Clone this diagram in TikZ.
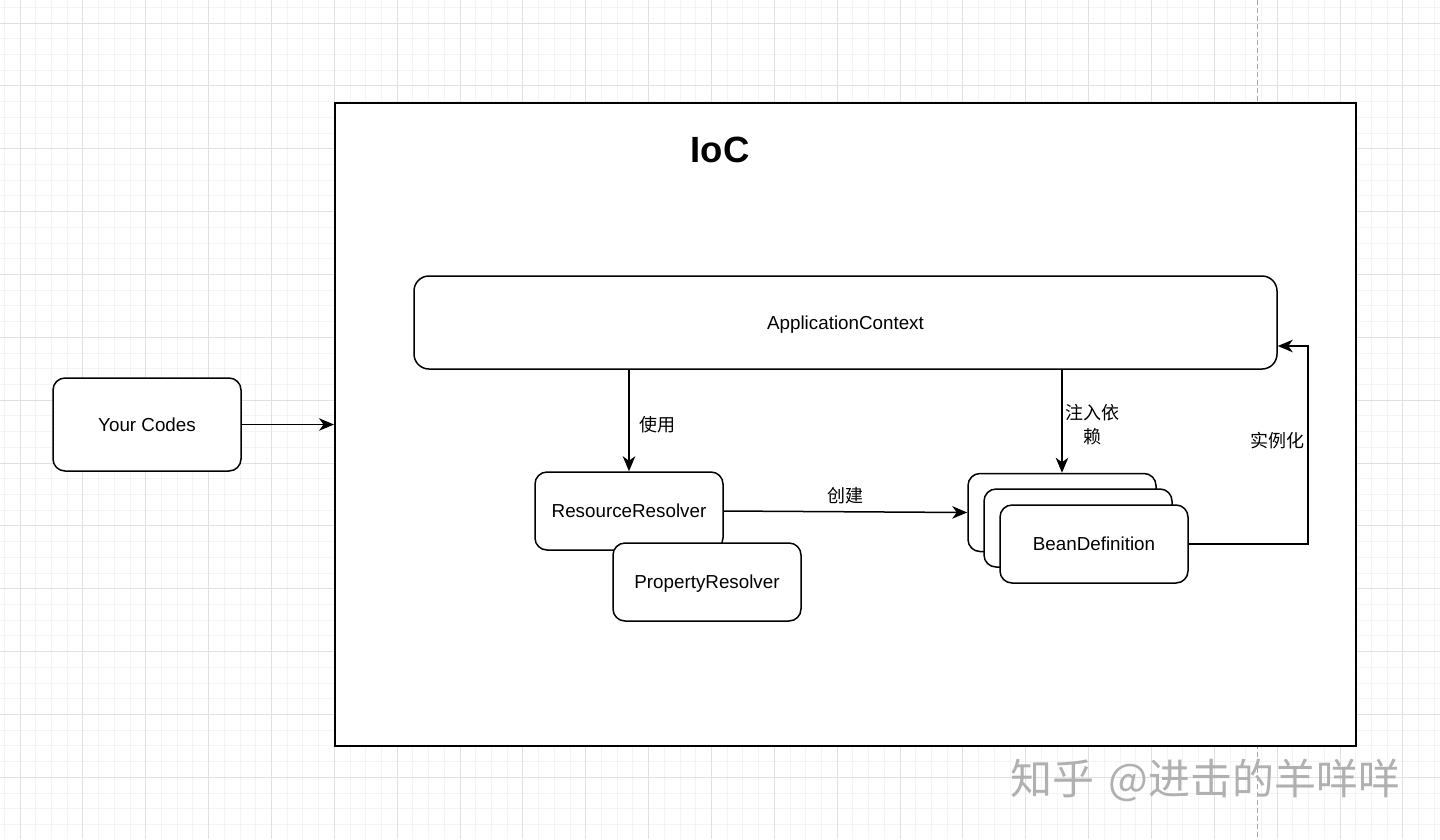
\documentclass[tikz,border=0pt]{standalone}
\usepackage{fontspec}
\setmainfont{Liberation Sans}
\newfontfamily\cjk{Noto Sans CJK SC}
\usetikzlibrary{arrows.meta}
\definecolor{gminor}{HTML}{F4F4F4}
\definecolor{gmajor}{HTML}{E0E0E0}
\definecolor{wmark}{HTML}{B0B0B0}
\begin{document}
\begin{tikzpicture}[x=1pt,y=-1pt,
  box/.style={draw, line width=1.5pt, rounded corners=12pt, fill=white, minimum width=188pt, minimum height=78pt, font=\fontsize{18.8}{21}\selectfont, inner sep=0pt, text depth=0pt},
  arr/.style={line width=1.5pt, -{Stealth[length=15pt,width=12.5pt,inset=4.5pt]}},
  lab/.style={font=\cjk\fontsize{18}{24}\selectfont, align=center, inner sep=0pt},
  minorline/.style={gminor, line width=0.8pt},
  majorline/.style={gmajor, line width=1pt}]
\useasboundingbox (0,0) rectangle (1440,839);
\fill[white] (0,0) rectangle (1440,839);
% grid
\foreach \i in {-1,...,91} \draw[minorline] ({20+\i*15.714},0) -- ({20+\i*15.714},839);
\foreach \i in {-1,...,52} \draw[minorline] (0,{23+\i*15.714}) -- (1440,{23+\i*15.714});
\foreach \i in {0,...,22} \draw[majorline] ({20+\i*62.857},0) -- ({20+\i*62.857},839);
\foreach \i in {0,...,13} \draw[majorline] (0,{23+\i*62.857}) -- (1440,{23+\i*62.857});
\draw[gray!70, line width=1pt, dash pattern=on 5pt off 3pt] (1257,0) -- (1257,839);
% IoC container
\node[draw, line width=2pt, fill=white, minimum width=1021pt, minimum height=643pt, inner sep=0pt] (ioc) at (845.5,424.5) {};
\node[font=\bfseries\fontsize{36.5}{40}\selectfont, inner sep=0pt] (title) at (720,150) {IoC};
% nodes
\node[box, minimum width=863pt, minimum height=93pt, rounded corners=15pt] (ac) at (845.5,322.5) {ApplicationContext};
\node[box, minimum height=93pt] (yc) at (147,424.5) {Your Codes};
\node[box] (rr) at (629,511) {ResourceResolver};
\node[box] (pr) at (707,582) {PropertyResolver};
\node[box] (bd1) at (1062,512.5) {};
\node[box] (bd2) at (1078,528) {};
\node[box] (bd3) at (1094,544) {BeanDefinition};
% connectors
\draw[arr] (yc.east) -- (ioc.west);
\draw[arr] (ac.south -| rr.north) -- (rr.north);
\draw[arr] (ac.south -| bd1.north) -- (bd1.north);
\draw[arr] (rr.east) -- (bd1.west);
\coordinate (turn) at (1308,346);
\draw[arr] (bd3.east) -| (turn) -- (ac.east |- turn);
% labels
\node[lab] (l1) at (657,425) {使用};
\node[lab] (l2) at (1092,425) {注入依\\赖};
\node[lab] (l3) at (845,496) {创建};
\node[lab] (l4) at (1277,441) {实例化};
% watermark
\node[font=\cjk\fontsize{42}{46}\selectfont, text=wmark, anchor=west, inner sep=0pt] (wm) at (1010,780) {知乎\hspace{0.35em}@进击的羊咩咩};
\end{tikzpicture}
\end{document}
